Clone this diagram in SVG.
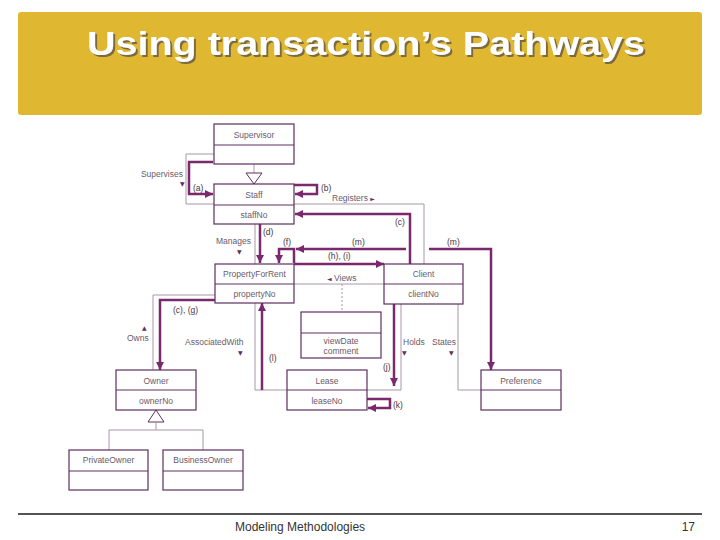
<svg xmlns="http://www.w3.org/2000/svg" width="720" height="540" viewBox="0 0 720 540">
<style>
.box{fill:#fff;stroke:#5e2e5e;stroke-width:1.2}
.div{stroke:#5e2e5e;stroke-width:1}
.thin{fill:none;stroke:#a896a8;stroke-width:1}
.thick{fill:none;stroke:#7a2a6c;stroke-width:2.5}
.t{font-family:"Liberation Sans",Arial,sans-serif;font-size:8.5px;fill:#6a5a6a}
.c{text-anchor:middle}
.lb{font-family:"Liberation Sans",Arial,sans-serif;font-size:8.5px;fill:#4a3448}
.sym{font-family:"DejaVu Sans",sans-serif;font-size:6px;fill:#5e2e5e}
</style>
<defs>
<marker id="ah" viewBox="0 0 10 10" refX="10" refY="5" markerWidth="9" markerHeight="8" markerUnits="userSpaceOnUse" orient="auto">
<path d="M0,0 L10,5 L0,10 z" fill="#7a2a6c"/>
</marker>
<filter id="sh" x="-5%" y="-20%" width="110%" height="150%">
<feDropShadow dx="2" dy="2" stdDeviation="0.7" flood-color="#6f6240" flood-opacity="0.9"/>
</filter>
</defs>
<rect width="720" height="540" fill="#fff"/>
<g id="header">
<rect x="18" y="12" width="684" height="103" rx="3" fill="#dfb730"/>
<text x="87" y="55" font-family="Liberation Sans,Arial,sans-serif" font-weight="bold" font-size="33" fill="#fff" textLength="558" lengthAdjust="spacingAndGlyphs" filter="url(#sh)">Using transaction’s Pathways</text>
</g>
<g id="footer">
<line x1="18" y1="514" x2="702" y2="514" stroke="#555" stroke-width="2"/>
<text x="235" y="531" font-family="Liberation Sans,Arial,sans-serif" font-size="12" fill="#333">Modeling Methodologies</text>
<text x="695" y="531" font-family="Liberation Sans,Arial,sans-serif" font-size="12" fill="#333" text-anchor="end">17</text>
</g>
<g id="connectors">
<path class="thin" d="M214,154 H186 V204 H214"/>
<path class="thin" d="M294,204 H424 V264"/>
<path class="thin" d="M255,224 V264"/>
<path class="thin" d="M294,284 H384"/>
<path class="thin" d="M342,284 V312" stroke-dasharray="2,2"/>
<path class="thin" d="M215,295 H153 V370"/>
<path class="thin" d="M255,303 V390 H401 V304"/>
<path class="thin" d="M458,304 V390 H481"/>
<path class="thin" d="M254,164 V173"/>
<polygon points="246,173 262,173 254,184" fill="#fff" stroke="#5e2e5e" stroke-width="1"/>
<polygon points="156,410 148,422 164,422" fill="#fff" stroke="#5e2e5e" stroke-width="1"/>
<path class="thin" d="M156,422 V430 M109,450 V430 H203 V450"/>
<path class="thick" d="M213,162 H189 V194 H213" marker-end="url(#ah)"/>
<path class="thick" d="M294,185 H317 V194 H295" marker-end="url(#ah)"/>
<path class="thick" d="M410,264 V214 H295" marker-end="url(#ah)"/>
<path class="thick" d="M260,224 V263" marker-end="url(#ah)"/>
<path class="thick" d="M294,263 V249 H279 V263" marker-end="url(#ah)"/>
<path class="thick" d="M429,249 H491 V370" marker-end="url(#ah)"/>
<path class="thick" d="M406,249 H296" marker-end="url(#ah)"/>
<path class="thick" d="M294,264 H384" marker-end="url(#ah)"/>
<path class="thick" d="M394,304 V386" marker-end="url(#ah)"/>
<path class="thick" d="M262,390 V303" marker-end="url(#ah)"/>
<path class="thick" d="M367,399 H390 V408 H368" marker-end="url(#ah)"/>
<path class="thick" d="M215,300 H160 V370" marker-end="url(#ah)"/>
</g>
<g id="labels">
<text class="t" x="183" y="177" text-anchor="end">Supervises</text>
<text class="sym" x="180" y="186">▼</text>
<text class="lb" x="193" y="191">(a)</text>
<text class="lb" x="321" y="191">(b)</text>
<text class="t" x="332" y="201">Registers <tspan class="sym">►</tspan></text>
<text class="lb" x="395" y="225">(c)</text>
<text class="t" x="251" y="244" text-anchor="end">Manages</text>
<text class="sym" x="237" y="254">▼</text>
<text class="lb" x="263" y="235">(d)</text>
<text class="lb" x="283" y="245">(f)</text>
<text class="lb" x="352" y="245">(m)</text>
<text class="lb" x="447" y="245">(m)</text>
<text class="lb" x="328" y="259">(h), (i)</text>
<text class="t" x="327" y="281"><tspan class="sym">◄</tspan> Views</text>
<text class="lb" x="173" y="313">(c), (g)</text>
<text class="sym" x="142" y="330">▲</text>
<text class="t" x="127" y="341">Owns</text>
<text class="t" x="185" y="345">AssociatedWith</text>
<text class="sym" x="238" y="355">▼</text>
<text class="lb" x="269" y="361">(l)</text>
<text class="t" x="403" y="345">Holds</text>
<text class="sym" x="402" y="355">▼</text>
<text class="t" x="432" y="345">States</text>
<text class="sym" x="449" y="355">▼</text>
<text class="lb" x="383" y="370">(j)</text>
<text class="lb" x="393" y="408">(k)</text>
</g>
<g id="Supervisor">
<rect class="box" x="214" y="124" width="80" height="40"/>
<line class="div" x1="214" y1="145" x2="294" y2="145"/>
<text class="t c" x="254" y="138">Supervisor</text>
</g>
<g id="Staff">
<rect class="box" x="214" y="184" width="80" height="40"/>
<line class="div" x1="214" y1="205" x2="294" y2="205"/>
<text class="t c" x="254" y="198">Staff</text>
<text class="t c" x="254" y="218">staffNo</text>
</g>
<g id="PropertyForRent">
<rect class="box" x="215" y="264" width="79" height="39"/>
<line class="div" x1="215" y1="284" x2="294" y2="284"/>
<text class="t c" x="254.5" y="277">PropertyForRent</text>
<text class="t c" x="254.5" y="297">propertyNo</text>
</g>
<g id="Client">
<rect class="box" x="384" y="264" width="79" height="40"/>
<line class="div" x1="384" y1="284" x2="463" y2="284"/>
<text class="t c" x="423.5" y="277">Client</text>
<text class="t c" x="423.5" y="297">clientNo</text>
</g>
<g id="View">
<rect class="box" x="301" y="312" width="80" height="46"/>
<line class="div" x1="301" y1="333" x2="381" y2="333"/>
<text class="t c" x="341" y="344">viewDate</text>
<text class="t c" x="341" y="354">comment</text>
</g>
<g id="Owner">
<rect class="box" x="116" y="370" width="80" height="40"/>
<line class="div" x1="116" y1="390" x2="196" y2="390"/>
<text class="t c" x="156" y="384">Owner</text>
<text class="t c" x="156" y="404">ownerNo</text>
</g>
<g id="Lease">
<rect class="box" x="287" y="370" width="80" height="40"/>
<line class="div" x1="287" y1="390" x2="367" y2="390"/>
<text class="t c" x="327" y="384">Lease</text>
<text class="t c" x="327" y="404">leaseNo</text>
</g>
<g id="Preference">
<rect class="box" x="481" y="370" width="80" height="40"/>
<line class="div" x1="481" y1="390" x2="561" y2="390"/>
<text class="t c" x="521" y="384">Preference</text>
</g>
<g id="PrivateOwner">
<rect class="box" x="69" y="450" width="79" height="40"/>
<line class="div" x1="69" y1="471" x2="148" y2="471"/>
<text class="t c" x="108.5" y="463">PrivateOwner</text>
</g>
<g id="BusinessOwner">
<rect class="box" x="163" y="450" width="80" height="40"/>
<line class="div" x1="163" y1="471" x2="243" y2="471"/>
<text class="t c" x="203" y="463">BusinessOwner</text>
</g>
</svg>
